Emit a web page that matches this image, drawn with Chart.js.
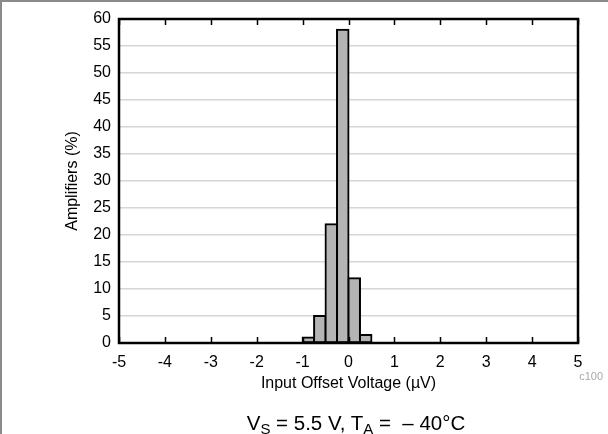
<!DOCTYPE html>
<html>
<head>
<meta charset="utf-8">
<script src="https://cdn.jsdelivr.net/npm/chart.js@4"></script>
<style>
  html, body { margin: 0; padding: 0; background: #fff; }
  #wrap { position: relative; width: 608px; height: 434px; overflow: hidden; font-family: 'Liberation Sans', Arial, sans-serif; }
  #edgeTop { position: absolute; left: 0; top: 0; width: 608px; height: 2px; background: #8a8a8a; }
  #edgeLeft { position: absolute; left: 0; top: 0; width: 2px; height: 434px; background: #8a8a8a; }
  #caption { position: absolute; left: 0; width: 712px; top: 411px; text-align: center; font-size: 20.5px; color: #000; line-height: 24px; }
  #caption sub { font-size: 15px; vertical-align: -4px; line-height: 0; }
  #code { position: absolute; right: 5px; top: 370px; font-size: 11px; color: #a8a8a8; }
</style>
</head>
<body>
<div id="wrap">
  <canvas id="chart" width="608" height="434"></canvas>
  <div id="edgeTop"></div>
  <div id="edgeLeft"></div>
  <div id="caption">V<sub>S</sub> = 5.5 V, T<sub>A</sub> = &nbsp;&#8211; 40°C</div>
  <div id="code">c100</div>
</div>
<script>
// histogram bins (centre of each 0.25 uV bin) and percentage of amplifiers
const binCenters = [-0.875, -0.625, -0.375, -0.125, 0.125, 0.375];
const amplifiersPct = [1, 5, 22, 58, 12, 1.5];
const xTicks = [-5, -4, -3, -2, -1, 0, 1, 2, 3, 4, 5];
const yTicks = [0, 5, 10, 15, 20, 25, 30, 35, 40, 45, 50, 55, 60];

const font = { family: "'Liberation Sans', Arial, sans-serif", size: 16 };

// box around plot area + small inward tick marks on the x axis
const framePlugin = {
  id: 'frame',
  afterDraw(chart) {
    const { ctx, chartArea: a, scales } = chart;
    ctx.save();
    ctx.strokeStyle = '#000';
    ctx.lineWidth = 1.5;
    scales.x.ticks.forEach(t => {
      const px = Math.round(scales.x.getPixelForValue(t.value)) + 0.5;
      ctx.beginPath();
      ctx.moveTo(px, a.bottom);
      ctx.lineTo(px, a.bottom - 6);
      ctx.moveTo(px, a.top);
      ctx.lineTo(px, a.top + 6);
      ctx.stroke();
    });
    ctx.lineWidth = 2.5;
    ctx.strokeRect(a.left, a.top, a.right - a.left, a.bottom - a.top);
    ctx.restore();
  }
};

new Chart(document.getElementById('chart').getContext('2d'), {
  type: 'bar',
  data: {
    datasets: [{
      data: binCenters.map((x, i) => ({ x: x, y: amplifiersPct[i] })),
      backgroundColor: '#b4b4b4',
      borderColor: '#000',
      borderWidth: 2,
      borderSkipped: false,
      inflateAmount: 1,
      barPercentage: 1,
      categoryPercentage: 1
    }]
  },
  options: {
    responsive: false,
    animation: false,
    datasets: { bar: { barPercentage: 1, categoryPercentage: 1 } },
    layout: { padding: { top: 19, right: 30, left: 0, bottom: 41 } },
    plugins: { legend: { display: false }, tooltip: { enabled: false } },
    scales: {
      x: {
        type: 'linear',
        offset: false,
        min: -5,
        max: 5,
        afterBuildTicks: s => { s.ticks = xTicks.map(v => ({ value: v })); },
        afterFit: s => { s.height = 50; },
        grid: { display: false, drawTicks: false, offset: false },
        border: { display: false },
        ticks: { color: '#000', font: font, padding: 10, maxRotation: 0 },
        title: { display: true, text: 'Input Offset Voltage (\u00b5V)', color: '#000', font: font, padding: { top: 0, bottom: 0 } }
      },
      y: {
        min: 0,
        max: 60,
        afterBuildTicks: s => { s.ticks = yTicks.map(v => ({ value: v })); },
        afterFit: s => { s.width = 119; },
        grid: { color: '#d6d6d6', lineWidth: 1.5, drawTicks: false },
        border: { display: false },
        ticks: { color: '#000', font: font, padding: 8 },
        title: { display: true, text: 'Amplifiers (%)', color: '#000', font: font, padding: { top: 63, bottom: 0 } }
      }
    }
  },
  plugins: [framePlugin]
});
</script>
</body>
</html>
